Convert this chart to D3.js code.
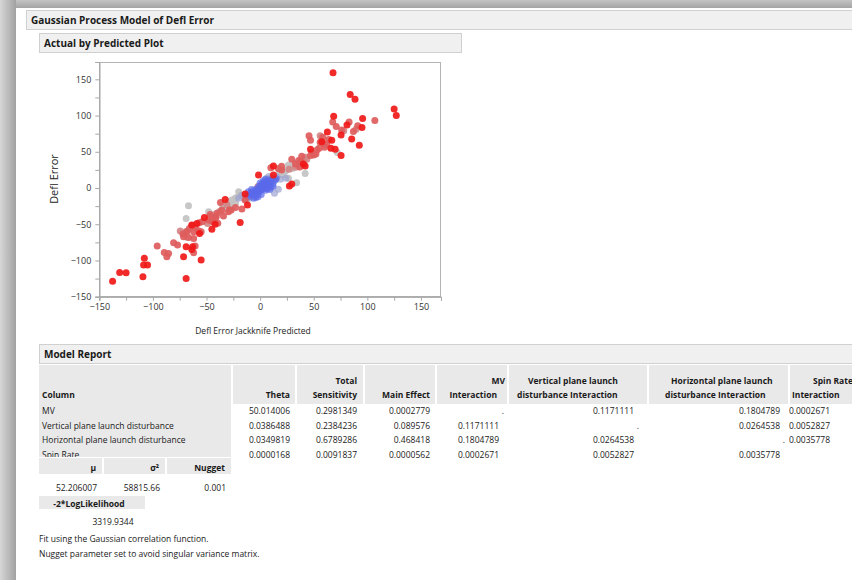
<!DOCTYPE html>
<html><head><meta charset="utf-8">
<script src="https://cdn.jsdelivr.net/npm/d3@7"></script>
<style>
body{margin:0;background:#fff;}
svg{display:block;font-family:"Open Sans",sans-serif;}
</style>
</head><body>
<svg id="chart" width="852" height="580"></svg>
<script>
// Actual by predicted values: jackknife prediction, observed deflection error, colour value (0 blue .. 0.5 grey .. 1 red)
const predicted = [
  72,31.7,26.4,28,42,34,26.4,23,21,6,-20,-35,-29.5,-26.4,-23,-21.7,-48,-66.8,-69,-68.3,-37.3,-23.3,-29.5,-18,18,30,36,-33,-26,-44,24,-10,
  78,89.4,56,42,43.5,33,-74.5,-69,-38,-31,27,48,60,-49,-2,
  24,15.5,17,13.4,-15,-17,10,13,-13,-20,19,8,
  -12,-10,-9,-8,-7,-6,-5,-5,-4,-3,-3,-2,-1,-1,0,0,1,1,2,2,3,3,4,4,5,5,6,6,7,7,8,8,9,10,11,12,14,15,-6,-8,0,3,-2,10,-4,1,5,9,-11,12,
  67.7,71,83,91,107,76,60,62,58.4,55,53,45.6,47,50,47,38.8,36,38,29.5,37,20,17,-17,-37,-27,-29.5,-35.7,-40.4,-41,-46.6,-45,-54,-63.7,-66,-62,-57.5,-68.3,-72,-71.4,-66.8,-62,-60.6,-62,-77,-80.7,-96,-89.4,-87,-85.4,-43.5,-39.5,-34.2,-28.6,-14,-56.9,-60.6,-55,-48.2,-46.6,-41.4,-23,10,20,33,56,64,52,87,
  68,84,88.5,125,127,68.6,81,95.6,75.5,95,85.4,92.5,75.5,62.7,66.8,66,70,57.5,47,40.4,42,12.4,12.4,29.5,27.3,-1.5,-14,-11.8,-18.6,-32.6,-52,-59,-42,-56.5,-63.7,-63,-69,-71.4,-63.7,-69,-55,-108,-108.7,-105,-109.3,-131,-125,-137.6,-45
];
const actual = [
  49,34,31.8,29.5,20,7.4,13.4,22.6,18,13.4,-5,-24.4,-19,-16.6,-21,-13,-32.7,-24.4,-42,-68,-32.7,-14.2,-23.5,-10,22,27,30,-27,-26,-37,24,-14,
  79,81,72,42.4,39.6,28.6,-59.4,-60,-32.7,-23,26,49,60,-49,2,
  13.4,15.7,-1.8,-7.4,-14,-10,14,10,-17,-14,12,16,
  -10,-12,-7,-9,-5,-8,-3,-11,-6,-1,-9,-4,2,-6,0,-3,4,-2,1,6,-1,3,8,0,5,-3,2,9,4,-1,7,11,3,8,12,6,11,13,-14,-2,7,10,-12,1,-13,-9,12,-2,-5,2,
  91,85,91,86,93,80,56.2,61,70,54.8,52.5,72,66,45.6,45,43.8,37.8,36.4,39.6,29,24.9,27,-29,-20,-30.4,-32.7,-30.4,-35,-39.6,-39.6,-45.6,-46.5,-52,-55.8,-60.4,-59,-60.4,-63.6,-67.3,-68.2,-69.6,-80,-89.4,-78.8,-75.6,-80,-89,-95,-90.3,-46.5,-48.7,-38.6,-30.4,-16.6,-47.8,-53.4,-60.3,-44.2,-36.4,-40.5,-27,28,30,33,63,67,47,78,
  159,129,122.5,109,100,99,87,96,73,83.4,67.7,59,44.7,77.4,66,54.8,53.5,64,53.5,33,30.4,30.4,18,5.5,2.8,18,-8.3,-23.5,-47.5,-15.7,-40.6,-49,-50,-62.7,-51,-81,-81,-95,-84.8,-125,-99.5,-97,-106.4,-106.4,-122.6,-116.6,-117,-128.6,-57
];
const shade = [
  0.5,0.5,0.5,0.5,0.5,0.5,0.5,0.5,0.5,0.5,0.5,0.5,0.5,0.5,0.5,0.5,0.5,0.5,0.5,0.5,0.5,0.5,0.5,0.5,0.5,0.5,0.5,0.5,0.5,0.5,0.5,0.5,
  0.68,0.68,0.68,0.68,0.68,0.68,0.68,0.68,0.68,0.68,0.68,0.68,0.68,0.68,0.68,
  0.35,0.35,0.35,0.35,0.35,0.35,0.35,0.35,0.35,0.35,0.35,0.35,
  0.08,0.08,0.08,0.08,0.08,0.08,0.08,0.08,0.08,0.08,0.08,0.08,0.08,0.08,0.08,0.08,0.08,0.08,0.08,0.08,0.08,0.08,0.08,0.08,0.08,0.08,0.08,0.08,0.08,0.08,0.08,0.08,0.08,0.08,0.08,0.08,0.08,0.08,0.08,0.08,0.08,0.08,0.08,0.08,0.08,0.08,0.08,0.08,0.08,0.08,
  0.8,0.8,0.8,0.8,0.8,0.8,0.8,0.8,0.8,0.8,0.8,0.8,0.8,0.8,0.8,0.8,0.8,0.8,0.8,0.8,0.8,0.8,0.8,0.8,0.8,0.8,0.8,0.8,0.8,0.8,0.8,0.8,0.8,0.8,0.8,0.8,0.8,0.8,0.8,0.8,0.8,0.8,0.8,0.8,0.8,0.8,0.8,0.8,0.8,0.8,0.8,0.8,0.8,0.8,0.8,0.8,0.8,0.8,0.8,0.8,0.8,0.8,0.8,0.8,0.8,0.8,0.8,0.8,
  1,1,1,1,1,1,1,1,1,1,1,1,1,1,1,1,1,1,1,1,1,1,1,1,1,1,1,1,1,1,1,1,1,1,1,1,1,1,1,1,1,1,1,1,1,1,1,1,1
];
const xTicks = [-150,-100,-50,0,50,100,150];
const yTicks = [-150,-100,-50,0,50,100,150];
const minorTicks = [-125,-75,-25,25,75,125,175];

// Model report table
const factors = ["MV","Vertical plane launch disturbance","Horizontal plane launch disturbance","Spin Rate"];
const theta = ["50.014006","0.0386488","0.0349819","0.0000168"];
const totalSensitivity = ["0.2981349","0.2384236","0.6789286","0.0091837"];
const mainEffect = ["0.0002779","0.089576","0.468418","0.0000562"];
const interactions = [
  [".","0.1171111","0.1804789","0.0002671"],
  ["0.1171111",".","0.0264538","0.0052827"],
  ["0.1804789","0.0264538",".","0.0035778"],
  ["0.0002671","0.0052827","0.0035778",""]
];
const paramHeads = ["μ","σ²","Nugget"];
const paramValues = ["52.206007","58815.66","0.001"];
const likelihoodHead = "-2*LogLikelihood";
const likelihoodValue = "3319.9344";
const notes = ["Fit using the Gaussian correlation function.","Nugget parameter set to avoid singular variance matrix."];

const svg = d3.select("#chart");
const defs = svg.append("defs");
const gl = defs.append("linearGradient").attr("id","shadeL");
gl.append("stop").attr("offset","0%").attr("stop-color","#d6d6d6");
gl.append("stop").attr("offset","100%").attr("stop-color","#a2a2a2");
const gt = defs.append("linearGradient").attr("id","shadeT").attr("x1",0).attr("x2",0).attr("y1",0).attr("y2",1);
gt.append("stop").attr("offset","0%").attr("stop-color","#c4c4c4");
gt.append("stop").attr("offset","100%").attr("stop-color","#a4a4a4");

// window edge
svg.append("rect").attr("x",0).attr("y",0).attr("width",852).attr("height",8).attr("fill","url(#shadeT)");
svg.append("rect").attr("x",0).attr("y",0).attr("width",16).attr("height",580).attr("fill","url(#shadeL)");

const ink = "#1a1a1a";
function bar(x, y, w, h, label) {
  svg.append("rect").attr("x",x+0.5).attr("y",y+0.5).attr("width",w).attr("height",h)
    .attr("fill","#f0f0f0").attr("stroke","#d0d0d0");
  svg.append("text").attr("x",x+5).attr("y",y+h-5).attr("font-size",10).attr("font-weight",700)
    .attr("fill",ink).text(label);
}
bar(26, 10, 830, 19, "Gaussian Process Model of Defl Error");
bar(39, 33, 422, 19, "Actual by Predicted Plot");

// scatter plot
const x = d3.scaleLinear().domain([-150, 168.7]).range([99.3, 441]);
const y = d3.scaleLinear().domain([-150, 173.9]).range([296.7, 62]);
const color = d3.scaleLinear().domain([0, 0.5, 1]).range(["#4658f0", "#c2c2c2", "#f01818"]);

svg.append("rect").attr("x",99.5).attr("y",62.5).attr("width",341).attr("height",234)
  .attr("fill","#fff").attr("stroke","#b4b4b4");

const xAxis = svg.append("g").attr("transform","translate(0,296.7)")
  .call(d3.axisBottom(x).tickValues(xTicks).tickSize(4).tickPadding(3));
const xMinor = svg.append("g").attr("transform","translate(0,296.7)")
  .call(d3.axisBottom(x).tickValues(minorTicks.filter(v => v < 168)).tickSize(4).tickFormat(""));
const yAxis = svg.append("g").attr("transform","translate(99.3,0)")
  .call(d3.axisLeft(y).tickValues(yTicks).tickSize(4).tickPadding(4));
const yMinor = svg.append("g").attr("transform","translate(99.3,0)")
  .call(d3.axisLeft(y).tickValues(minorTicks.filter(v => v < 173)).tickSize(4).tickFormat(""));
[xAxis, xMinor, yAxis, yMinor].forEach(g => {
  g.select(".domain").attr("stroke","#a8a8a8");
  g.selectAll(".tick line").attr("stroke","#a8a8a8");
  g.selectAll(".tick text").attr("font-size",9).attr("fill","#333").attr("font-family","Open Sans, sans-serif");
});

svg.append("g").selectAll("circle").data(predicted).join("circle")
  .attr("cx", (d) => x(d))
  .attr("cy", (d, i) => y(actual[i]))
  .attr("r", 3.5)
  .attr("fill", (d, i) => color(shade[i]))
  .attr("fill-opacity", (d, i) => shade[i] < 0.4 ? 0.7 : 0.92);

svg.append("text").attr("transform","translate(58,179) rotate(-90)").attr("text-anchor","middle")
  .attr("font-size",11).attr("fill","#222").text("Defl Error");
svg.append("text").attr("x",253).attr("y",334).attr("text-anchor","middle")
  .attr("font-size",8.5).attr("fill","#222").text("Defl Error Jackknife Predicted");

// model report
bar(39, 344, 820, 19, "Model Report");
const fs = 8.5;
const hdrFill = "#e9e9e9";
const headCells = [[39,231],[233,295],[297,363],[365,435],[437,507],[509,647],[649,788],[790,860]];
headCells.forEach(([a,b], i) => {
  svg.append("rect").attr("x",a).attr("y",365).attr("width",b-a).attr("height", i === 0 ? 92 : 39).attr("fill",hdrFill);
});
function t(xp, yp, s, anchor, bold) {
  svg.append("text").attr("x",xp).attr("y",yp).attr("font-size",fs).attr("text-anchor",anchor||"start")
    .attr("font-weight",bold?700:400).attr("fill",ink).text(s);
}
t(42, 398, "Column", "start", true);
t(290, 398, "Theta", "end", true);
t(357, 384, "Total", "end", true);
t(357, 398, "Sensitivity", "end", true);
t(430, 398, "Main Effect", "end", true);
t(505, 384, "MV", "end", true);
t(497, 398, "Interaction", "end", true);
t(528, 384, "Vertical plane launch", "start", true);
t(517, 398, "disturbance Interaction", "start", true);
t(671, 384, "Horizontal plane launch", "start", true);
t(665, 398, "disturbance Interaction", "start", true);
t(813, 384, "Spin Rate", "start", true);
t(792, 398, "Interaction", "start", true);

const rowBase = [414, 428.5, 443, 457.5];
const interRight = [499, 634, 780, 830];
factors.forEach((f, r) => {
  t(42, rowBase[r], f);
  t(290, rowBase[r], theta[r], "end");
  t(357, rowBase[r], totalSensitivity[r], "end");
  t(430, rowBase[r], mainEffect[r], "end");
  interactions[r].forEach((v, c) => {
    if (v === ".") t(interRight[c] + 5, rowBase[r], v, "end");
    else if (v) t(interRight[c], rowBase[r], v, "end");
  });
});

// parameter estimates
svg.append("rect").attr("x",39).attr("y",457).attr("width",193).attr("height",17).attr("fill","#fff");
[[39,102],[104,165],[167,231]].forEach(([a,b], i) => {
  svg.append("rect").attr("x",a).attr("y",458).attr("width",b-a).attr("height",16).attr("fill",hdrFill);
  t(b-6, 471, paramHeads[i], "end", true);
  t(b-5, 491, paramValues[i], "end");
});
svg.append("rect").attr("x",39).attr("y",496).attr("width",106).attr("height",13).attr("fill",hdrFill);
t(89, 507, likelihoodHead, "middle", true);
t(113, 525, likelihoodValue, "middle");
t(39, 542, notes[0]);
t(39, 557, notes[1]);
</script>
</body></html>
